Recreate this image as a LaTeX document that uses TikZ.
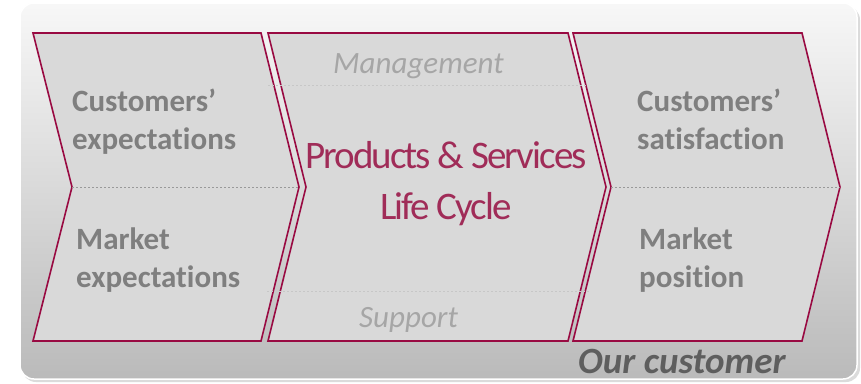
\documentclass[tikz,border=0pt]{standalone}
\usepackage{fontspec}
\setmainfont{Carlito}[Ligatures=NoCommon]
\usetikzlibrary{positioning}

\definecolor{chevline}{HTML}{990A42}
\definecolor{lifered}{HTML}{A02C58}
\definecolor{labelgray}{HTML}{7F7F7F}
\definecolor{minorgray}{HTML}{A6A6A6}
\definecolor{footgray}{HTML}{5E5E5E}

\begin{document}
\begin{tikzpicture}[x=1pt,y=-1pt,
  chev/.style={fill=black!15,draw=chevline,line width=1.6pt,line join=miter},
  seam/.style={dash pattern=on 2pt off 2pt,line width=0.6pt},
  label/.style={font=\bfseries\fontsize{31}{38}\selectfont,text=labelgray,
    align=left,inner sep=0pt,anchor=base west},
  minor/.style={font=\itshape\fontsize{31}{36}\selectfont,text=minorgray,
    inner sep=0pt,anchor=base west}]
  \useasboundingbox (0,0) rectangle (861,383);
  % rounded panel with soft shadow
  \fill[black!14,rounded corners=14pt] (22,6) rectangle (860,382);
  \shade[top color=black!3,middle color=black!9,bottom color=black!27,
    draw=white,line width=1.5pt,rounded corners=14pt] (20,3) rectangle (857,379);
  % the three chevrons
  \draw[chev] (33,33) -- (261,33) -- (299,187) -- (261,341) -- (33,341) -- (72,187) -- cycle;
  \draw[chev] (268,33) -- (568,33) -- (606,187) -- (568,341) -- (268,341) -- (306,187) -- cycle;
  \draw[chev] (573,33) -- (802,33) -- (840,187) -- (802,341) -- (573,341) -- (611,187) -- cycle;
  % dashed seams
  \draw[seam,black!40] (72,187) -- (299,187);
  \draw[seam,black!40] (611,187) -- (840,187);
  \draw[seam,black!22] (268,85) -- (588,85);
  \draw[seam,black!22] (267,291) -- (590,291);
  % labels (base = last line)
  \node[label] (custexp) at (72,149) {Customers’\\expectations};
  \node[label] (mktexp) at (76,287) {Market\\expectations};
  \node[label] (custsat) at (637,149) {Customers’\\satisfaction};
  \node[label] (mktpos) at (639,287) {Market\\position};
  \node[minor] (mgmt) at (333,73) {Management};
  \node[minor] (support) at (359,327) {Support};
  \node[font=\fontsize{39}{51}\selectfont\addfontfeatures{LetterSpace=-5},
    text=lifered,align=center,inner sep=0pt,anchor=base] (pslc) at (446,219)
    {Products \& Services\\Life Cycle};
  \node[font=\bfseries\itshape\fontsize{37}{42}\selectfont,text=footgray,
    inner sep=0pt,anchor=base west] (ourcust) at (578,373) {Our customer};
\end{tikzpicture}
\end{document}
